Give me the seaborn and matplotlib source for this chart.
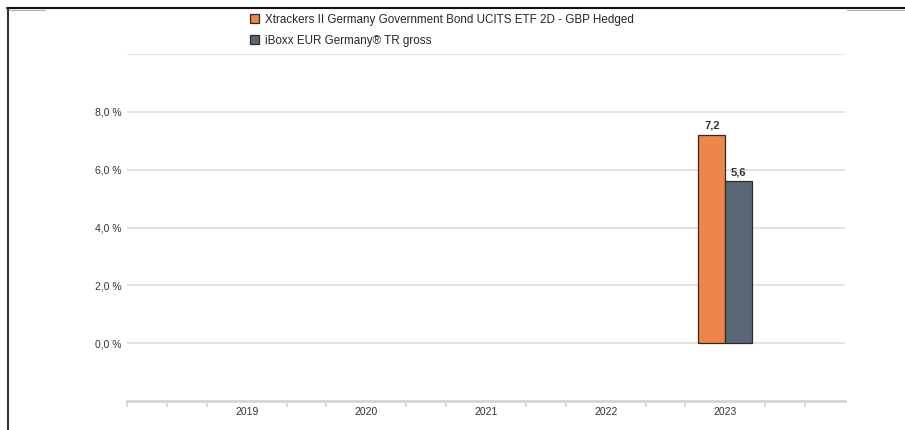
import numpy as np
import pandas as pd
import matplotlib

matplotlib.use("Agg")
import matplotlib.pyplot as plt
import seaborn as sns
from matplotlib.lines import Line2D

years = ["2019", "2020", "2021", "2022", "2023"]
fund_name = "Xtrackers II Germany Government Bond UCITS ETF 2D - GBP Hedged"
index_name = "iBoxx EUR Germany® TR gross"
fund_values = [np.nan, np.nan, np.nan, np.nan, 7.2]
index_values = [np.nan, np.nan, np.nan, np.nan, 5.6]

df = pd.DataFrame(
    {
        "year": years * 2,
        "value": fund_values + index_values,
        "series": [fund_name] * len(years) + [index_name] * len(years),
    }
)

sns.set_style("white")
plt.rcParams["font.family"] = ["Liberation Sans", "DejaVu Sans"]

fig = plt.figure(figsize=(9.05, 4.30), dpi=100)
ax = fig.add_axes([0.1403, 0.0674, 0.7934, 0.807])

palette = {fund_name: "#f0854a", index_name: "#596774"}
sns.barplot(
    data=df,
    x="year",
    y="value",
    hue="series",
    order=years,
    hue_order=[fund_name, index_name],
    palette=palette,
    width=0.45,
    edgecolor="#2b2b2b",
    linewidth=0.9,
    saturation=1,
    ax=ax,
)

# value labels
for cont in ax.containers:
    labels = []
    for bar in cont:
        h = bar.get_height()
        labels.append("" if np.isnan(h) else f"{h:.1f}".replace(".", ","))
    ax.bar_label(cont, labels=labels, padding=3, fontsize=8,
                 fontweight="bold", color="#333333")

ax.set_xlim(-1, 5.0)
ax.set_ylim(-2, 10)
ax.set_xlabel("")
ax.set_ylabel("")

# y axis
yt = [0, 2, 4, 6, 8, 10]
ax.set_yticks(yt)
ax.set_yticklabels([f"{v:.1f} %".replace(".", ",") if v < 10 else "" for v in yt])
ax.tick_params(axis="y", length=0, pad=4, labelsize=7.5, labelcolor="#333333")
for v in yt:
    ax.axhline(v, color="#e6e3de", linewidth=1.4, zorder=0)

# x axis
ax.set_xticks(range(len(years)))
ax.set_xticklabels(years)
minor = [k / 3 for k in range(-3, 16) if k % 3 != 0] + [-1]
ax.set_xticks(minor, minor=True)
ax.tick_params(axis="x", which="major", bottom=False, length=0, pad=4,
               labelsize=7.5, labelcolor="#333333")
ax.tick_params(axis="x", which="minor", bottom=True, length=4, width=1.2,
               color="#d9d5cd", direction="out")

for s in ["top", "right", "left"]:
    ax.spines[s].set_visible(False)
ax.spines["bottom"].set_color("#d9d5cd")
ax.spines["bottom"].set_linewidth(2)

# legend
handles, lbls = ax.get_legend_handles_labels()
ax.legend(
    handles,
    lbls,
    loc="upper left",
    bbox_to_anchor=(250 / 905, 1 - 14 / 430),
    bbox_transform=fig.transFigure,
    frameon=False,
    fontsize=8.4,
    handlelength=0.8,
    handleheight=0.8,
    handletextpad=0.5,
    labelspacing=0.75,
    borderpad=0,
    borderaxespad=0,
)

# frame lines of the page
W, H = 905, 430
fig.add_artist(Line2D([9 / W, 45 / W], [1 - 9.5 / H] * 2, color="#b0b0b0", lw=0.8))
fig.add_artist(Line2D([847 / W, 1], [1 - 9.5 / H] * 2, color="#b0b0b0", lw=0.8))
fig.add_artist(Line2D([7 / W, 1], [1 - 7.5 / H] * 2, color="#111111", lw=1.5))
fig.add_artist(Line2D([8 / W] * 2, [0, 1 - 7.5 / H], color="#333333", lw=1.5))

fig.savefig("out.png", dpi=100)
